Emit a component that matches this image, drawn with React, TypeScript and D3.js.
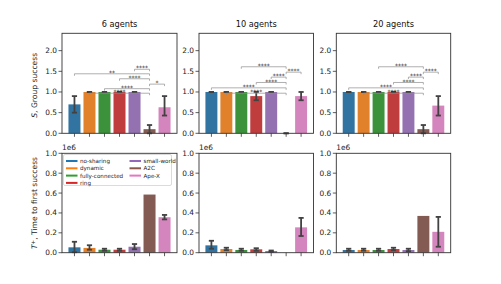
import * as d3 from "d3";

// categories and panels
const categories = ["no-sharing", "dynamic", "fully-connected", "ring", "small-world", "A2C", "Ape-X"];
const panelTitles = ["6 agents", "10 agents", "20 agents"];

// S, group success (mean + CI)
const success6 = [0.7, 1.0, 1.0, 1.0, 1.0, 0.1, 0.63];
const success6Lo = [0.5, 1.0, 1.0, 1.0, 1.0, 0.0, 0.43];
const success6Hi = [0.9, 1.0, 1.0, 1.0, 1.0, 0.2, 0.9];
const success10 = [1.0, 1.0, 1.0, 0.9, 1.0, 0.0, 0.9];
const success10Lo = [1.0, 1.0, 1.0, 0.8, 1.0, 0.0, 0.8];
const success10Hi = [1.0, 1.0, 1.0, 1.0, 1.0, 0.0, 1.0];
const success20 = [1.0, 1.0, 1.0, 1.0, 1.0, 0.1, 0.67];
const success20Lo = [1.0, 1.0, 1.0, 1.0, 1.0, 0.0, 0.43];
const success20Hi = [1.0, 1.0, 1.0, 1.0, 1.0, 0.2, 0.9];

// T+, time to first success (x1e6)
const time6 = [0.054, 0.048, 0.03, 0.03, 0.06, 0.585, 0.357];
const time6Lo = [0.005, 0.03, 0.02, 0.02, 0.035, NaN, 0.335];
const time6Hi = [0.11, 0.075, 0.04, 0.04, 0.087, NaN, 0.38];
const time10 = [0.074, 0.037, 0.027, 0.034, 0.017, 0, 0.255];
const time10Lo = [0.04, 0.025, 0.02, 0.02, 0.01, NaN, 0.168];
const time10Hi = [0.12, 0.05, 0.04, 0.045, 0.022, NaN, 0.35];
const time20 = [0.027, 0.027, 0.027, 0.037, 0.027, 0.37, 0.21];
const time20Lo = [0.02, 0.02, 0.02, 0.025, 0.015, NaN, 0.06];
const time20Hi = [0.04, 0.04, 0.04, 0.05, 0.04, NaN, 0.36];

// significance brackets: [from, to, label], drawn at the matching level
const sig6 = [[1, 5, "****"], [2, 5, "****"], [5, 6, "*"], [3, 5, "****"], [0, 5, "**"], [4, 5, "****"]];
const sig6Levels = [0.97, 1.08, 1.19, 1.32, 1.44, 1.55];
const sig10 = [[1, 5, "****"], [0, 5, "****"], [3, 5, "****"], [4, 5, "****"], [5, 6, "****"], [2, 5, "****"]];
const sig10Levels = [0.97, 1.1, 1.23, 1.36, 1.48, 1.61];
const sig20 = sig10;
const sig20Levels = sig10Levels;

const successTicks = [0, 0.5, 1.0, 1.5, 2.0];
const timeTicks = [0, 0.2, 0.4, 0.6, 0.8, 1.0];

const lineColors = ["#1f77b4", "#ff7f0e", "#2ca02c", "#d62728", "#9467bd", "#8c564b", "#e377c2"];
const barColors = lineColors.map((c) => {
  // seaborn-style desaturation (0.75)
  const h = d3.hsl(c);
  h.s *= 0.75;
  return h.formatHex();
});

const FONT = "DejaVu Sans, sans-serif";
const panelX = [[62, 177], [199, 313.5], [336.3, 450.7]];
const topY = [33.3, 133.3];
const botY = [153.3, 252.7];

type PanelProps = {
  x0: number;
  x1: number;
  y0: number;
  y1: number;
  ymax: number;
  ticks: number[];
  mean: number[];
  lo: number[];
  hi: number[];
  sig?: (number | string)[][];
  sigLevels?: number[];
  title?: string;
  offsetText?: boolean;
};

const Panel = ({ x0, x1, y0, y1, ymax, ticks, mean, lo, hi, sig, sigLevels, title, offsetText }: PanelProps) => {
  const xScale = d3.scaleLinear().domain([-0.83, 6.83]).range([x0, x1]);
  const yScale = d3.scaleLinear().domain([0, ymax]).range([y1, y0]);
  const bw = xScale(0.8) - xScale(0);
  const cap = 2.6;

  return (
    <g>
      {mean.map((v, i) => (
        <rect
          key={"b" + i}
          x={xScale(i) - bw / 2}
          y={yScale(v)}
          width={bw}
          height={Math.max(0, yScale(0) - yScale(v))}
          fill={barColors[i]}
        />
      ))}
      {mean.map((v, i) => {
        if (isNaN(lo[i])) return null;
        const cx = xScale(i);
        return (
          <g key={"e" + i} stroke="#424242" strokeWidth={1.8}>
            <line x1={cx} x2={cx} y1={yScale(lo[i])} y2={yScale(hi[i])} />
            <line x1={cx - cap} x2={cx + cap} y1={yScale(lo[i])} y2={yScale(lo[i])} />
            <line x1={cx - cap} x2={cx + cap} y1={yScale(hi[i])} y2={yScale(hi[i])} />
          </g>
        );
      })}
      {sig &&
        sigLevels &&
        sig.map((s, i) => {
          const a = xScale(s[0] as number);
          const b = xScale(s[1] as number);
          const y = yScale(sigLevels[i]);
          return (
            <g key={"s" + i}>
              <path
                d={`M${a},${y + 2}V${y}H${b}V${y + 2}`}
                fill="none"
                stroke="#8c8c8c"
                strokeWidth={0.7}
              />
              <text
                x={(a + b) / 2}
                y={y + 1.2}
                textAnchor="middle"
                fontSize={6}
                fontFamily={FONT}
                fill="#222"
              >
                {s[2]}
              </text>
            </g>
          );
        })}
      <rect x={x0} y={y0} width={x1 - x0} height={y1 - y0} fill="none" stroke="#333" strokeWidth={0.9} />
      {categories.map((_, i) => (
        <line key={"xt" + i} x1={xScale(i)} x2={xScale(i)} y1={y1} y2={y1 + 3.5} stroke="#333" strokeWidth={0.8} />
      ))}
      {ticks.map((t, i) => (
        <g key={"yt" + i}>
          <line x1={x0 - 3.5} x2={x0} y1={yScale(t)} y2={yScale(t)} stroke="#333" strokeWidth={0.8} />
          <text
            x={x0 - 5}
            y={yScale(t)}
            textAnchor="end"
            dominantBaseline="central"
            fontSize={7.4}
            fontFamily={FONT}
            fill="#222"
          >
            {t.toFixed(1)}
          </text>
        </g>
      ))}
      {title && (
        <text x={(x0 + x1) / 2} y={y0 - 6} textAnchor="middle" fontSize={8.2} fontFamily={FONT} fill="#111">
          {title}
        </text>
      )}
      {offsetText && (
        <text x={x0} y={y0 - 3} fontSize={7.4} fontFamily={FONT} fill="#222">
          1e6
        </text>
      )}
    </g>
  );
};

const Legend = ({ x, y }: { x: number; y: number }) => {
  const col1 = [0, 1, 2, 3];
  const col2 = [4, 5, 6];
  const rowH = 7.3;
  const item = (i: number, cx: number, row: number) => (
    <g key={"l" + i}>
      <line x1={cx} x2={cx + 11.5} y1={y + 6.5 + row * rowH} y2={y + 6.5 + row * rowH} stroke={lineColors[i]} strokeWidth={2} />
      <text x={cx + 14} y={y + 6.5 + row * rowH} dominantBaseline="central" fontSize={5.6} fontFamily={FONT} fill="#222">
        {categories[i]}
      </text>
    </g>
  );
  return (
    <g>
      <rect x={x} y={y} width={108} height={31} rx={1.5} fill="white" fillOpacity={0.8} stroke="#ccc" strokeWidth={0.7} />
      {col1.map((i, r) => item(i, x + 2.5, r))}
      {col2.map((i, r) => item(i, x + 66, r))}
    </g>
  );
};

export default function App() {
  const succ = [
    [success6, success6Lo, success6Hi],
    [success10, success10Lo, success10Hi],
    [success20, success20Lo, success20Hi],
  ];
  const times = [
    [time6, time6Lo, time6Hi],
    [time10, time10Lo, time10Hi],
    [time20, time20Lo, time20Hi],
  ];
  const sigs = [sig6, sig10, sig20];
  const sigLv = [sig6Levels, sig10Levels, sig20Levels];

  return (
    <svg width={501} height={284} style={{ position: "absolute", left: 0, top: 0, background: "white" }}>
      {panelX.map(([a, b], p) => (
        <Panel
          key={"top" + p}
          x0={a}
          x1={b}
          y0={topY[0]}
          y1={topY[1]}
          ymax={2.42}
          ticks={successTicks}
          mean={succ[p][0]}
          lo={succ[p][1]}
          hi={succ[p][2]}
          sig={sigs[p]}
          sigLevels={sigLv[p]}
          title={panelTitles[p]}
        />
      ))}
      {panelX.map(([a, b], p) => (
        <Panel
          key={"bot" + p}
          x0={a}
          x1={b}
          y0={botY[0]}
          y1={botY[1]}
          ymax={1.0}
          ticks={timeTicks}
          mean={times[p][0]}
          lo={times[p][1]}
          hi={times[p][2]}
          offsetText
        />
      ))}
      <Legend x={63.5} y={154.5} />
      <text
        transform={`translate(37,${(topY[0] + topY[1]) / 2 + 2}) rotate(-90)`}
        textAnchor="middle"
        fontSize={7.6}
        fontFamily={FONT}
        fill="#222"
      >
        <tspan fontStyle="italic">S</tspan>, Group success
      </text>
      <text
        transform={`translate(37,${(botY[0] + botY[1]) / 2}) rotate(-90)`}
        textAnchor="middle"
        fontSize={7.6}
        fontFamily={FONT}
        fill="#222"
      >
        <tspan fontStyle="italic">T</tspan>
        <tspan dy={-2.5} fontSize={5.5}>+</tspan>
        <tspan dy={2.5}>, Time to first success</tspan>
      </text>
    </svg>
  );
}
